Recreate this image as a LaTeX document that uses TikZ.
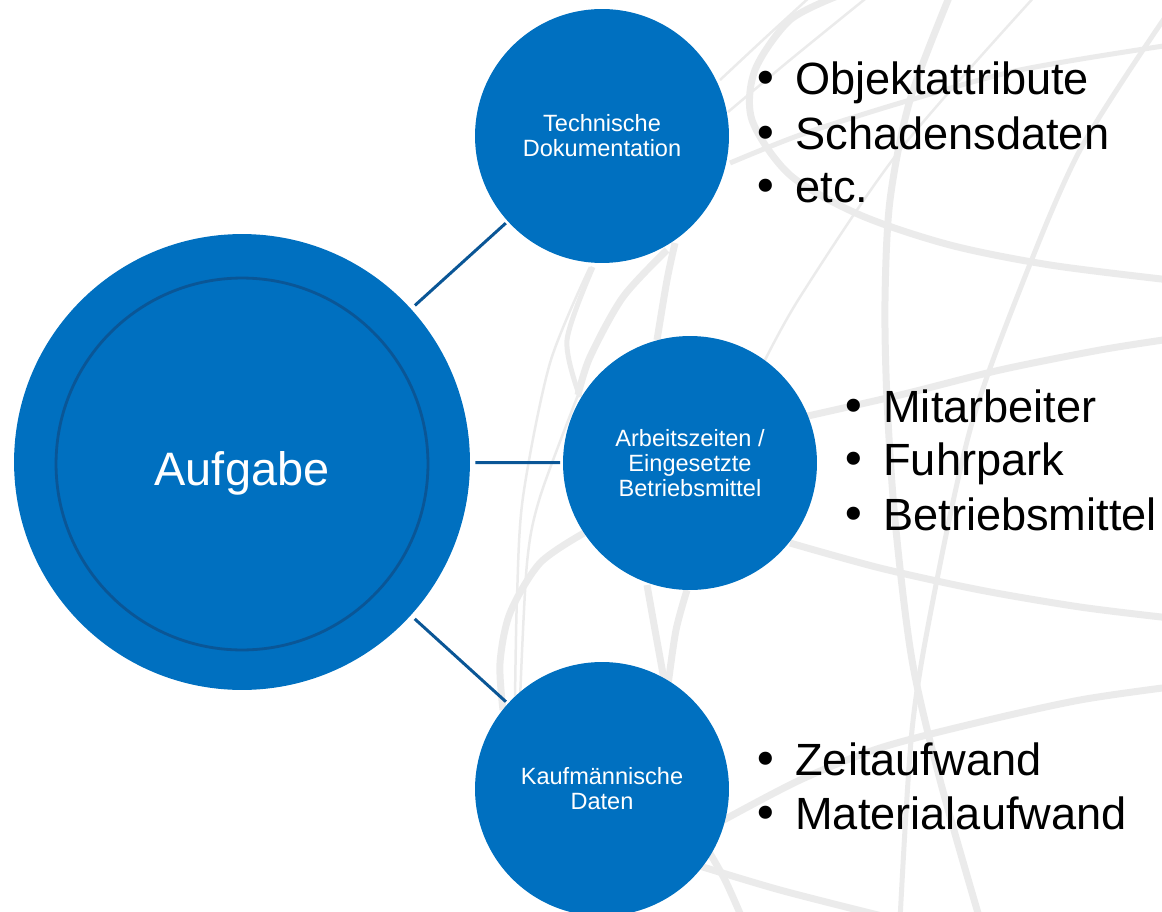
\documentclass[tikz,border=0pt]{standalone}
\usepackage{fontspec}
\setmainfont{Liberation Sans}
\newfontfamily\dotfont{DejaVu Sans}
\usetikzlibrary{positioning}
\newcommand{\itemdot}{\llap{{\dotfont\textbullet}\hspace{0.32cm}}}

\begin{document}
\begin{tikzpicture}[x=0.02cm,y=-0.02cm]
	\definecolor{hubblue}{RGB}{0,112,192}
	\definecolor{linkblue}{RGB}{10,86,150}
	\definecolor{meshgray}{RGB}{235,235,235}
	\tikzset{
		hub/.style={
			circle, fill=hubblue, minimum size=9.12cm, inner sep=0pt
		},
		hubring/.style={
			circle, draw=linkblue, line width=1.6pt,
			minimum size=7.44cm, inner sep=0pt
		},
		hubtext/.style={
			text=white, inner sep=0pt, anchor=base,
			font=\fontsize{26.7}{32}\selectfont
		},
		topic/.style={
			circle, fill=hubblue, minimum size=5.08cm, inner sep=0pt,
			text=white, align=center, font=\fontsize{13.4}{14.2}\selectfont
		},
		link/.style={
			draw=linkblue, line width=1.7pt,
			shorten <=0.1cm, shorten >=0.05cm
		},
		entry/.style={
			anchor=base west, inner sep=0pt,
			font=\fontsize{25.7}{30}\selectfont
		},
		meshthick/.style={draw=meshgray, line width=0.14cm},
		meshmid/.style={draw=meshgray, line width=0.1cm},
		meshthin/.style={draw=meshgray, line width=0.05cm}
	}
	
	\useasboundingbox (0,0) rectangle (1162,912);
	
	% ======= Hintergrund: Globuslinien =======
	\begin{scope}
		\clip (0,0) rectangle (1162,912);
		\draw[meshthick] plot[smooth] coordinates {(840,-5) (790,20) (755,70) (752,120) (790,175) (860,215) (950,245) (1050,265) (1170,280)};
		\draw[meshmid] plot[smooth] coordinates {(730,163) (800,135) (900,103) (1020,70) (1170,45)};
		\draw[meshthin] plot[smooth] coordinates {(720,80) (765,38) (812,-5)};
		\draw[meshthin] plot[smooth] coordinates {(728,112) (790,60) (870,-5)};
		\draw[meshthick] plot[smooth] coordinates {(950,-5) (910,100) (890,200) (885,300) (887,400) (895,520) (912,660) (940,780) (980,920)};
		\draw[meshmid] plot[smooth] coordinates {(1170,10) (1080,150) (1017,297) (970,430) (933,600) (912,730) (900,920)};
		\draw[meshthin] plot[smooth] coordinates {(1036,-5) (900,150) (800,297) (760,370)};
		\draw[meshthick] plot[smooth] coordinates {(790,420) (900,395) (1000,370) (1100,350) (1170,339)};
		\draw[meshthick] plot[smooth] coordinates {(790,543) (880,568) (980,590) (1080,607) (1170,618)};
		\draw[meshthick] plot[smooth] coordinates {(720,822) (800,780) (880,748) (980,722) (1080,700) (1170,687)};
		\draw[meshthick] plot[smooth] coordinates {(690,863) (780,890) (890,918)};
		\draw[meshthick] plot[smooth] coordinates {(705,845) (725,880) (742,918)};
		% zwischen den Kreisen
		\draw[meshthick] plot[smooth] coordinates {(675,243) (667,280) (657,340)};
		\draw[meshthick] plot[smooth] coordinates {(667,250) (623,297) (590,357) (578,395)};
		\draw[meshmid] plot[smooth] coordinates {(593,267) (567,340) (580,397)};
		\draw[meshthin] plot[smooth] coordinates {(590,267) (550,363) (523,497) (517,597) (515,700)};
		\draw[meshthin] plot[smooth] coordinates {(578,395) (540,497) (527,563) (520,700)};
		\draw[meshthick] plot[smooth] coordinates {(584,533) (540,563) (510,613) (500,663) (503,710)};
		\draw[meshthick] plot[smooth] coordinates {(647,585) (655,630) (665,685)};
		\draw[meshthick] plot[smooth] coordinates {(687,590) (676,630) (668,685)};
	\end{scope}
	
	% ======= Aufgabe =======
	\node[hub] (task) at (242,462) {};
	\node[hubring] (taskring) at (242,464) {};
	\node[hubtext] (tasklabel) at (242,485) {Aufgabe};
	
	% ======= Bereiche =======
	\node[topic] (tech) at (602,136) {Technische\\Dokumentation};
	\node[topic] (work) at (690,463) {Arbeitszeiten /\\Eingesetzte\\Betriebsmittel};
	\node[topic] (cost) at (602,789) {Kaufmännische\\Daten};
	
	\draw[link] (task) -- (tech);
	\draw[link] (task) -- (work);
	\draw[link] (task) -- (cost);
	
	% ======= Stichpunkte =======
	\node[entry] (tech1) at (795,95)  {\itemdot Objektattribute};
	\node[entry] (tech2) at (795,150) {\itemdot Schadensdaten};
	\node[entry] (tech3) at (795,203) {\itemdot etc.};
	
	\node[entry] (work1) at (883,422) {\itemdot Mitarbeiter};
	\node[entry] (work2) at (883,475) {\itemdot Fuhrpark};
	\node[entry] (work3) at (883,530) {\itemdot Betriebsmittel};
	
	\node[entry] (cost1) at (795,775) {\itemdot Zeitaufwand};
	\node[entry] (cost2) at (795,829) {\itemdot Materialaufwand};
	
\end{tikzpicture}
\end{document}
